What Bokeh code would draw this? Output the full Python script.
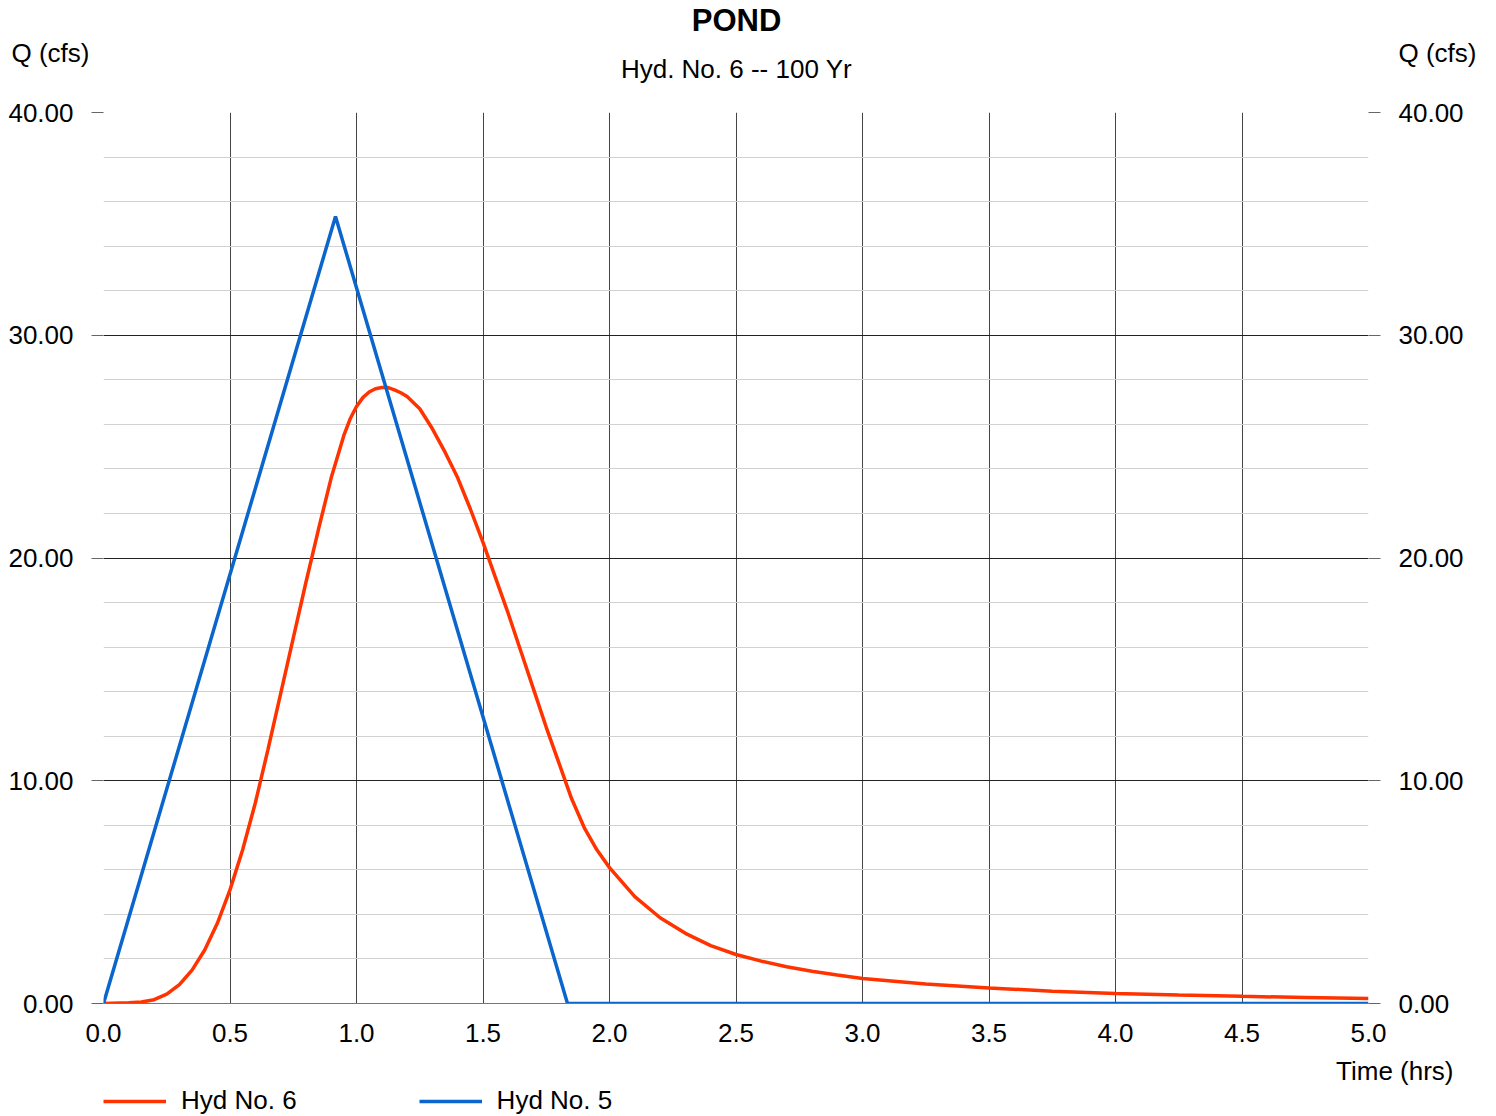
from bokeh.plotting import figure
from bokeh.layouts import column
from bokeh.models import (Range1d, LinearAxis, FixedTicker, NumeralTickFormatter,
                          Legend, LegendItem, Title)
from bokeh.core.properties import value
from bokeh.embed import file_html
from bokeh.resources import INLINE

# ---- data ----
hyd6_time = [0.0, 0.1, 0.15, 0.2, 0.25, 0.3, 0.35, 0.4, 0.45, 0.5, 0.55, 0.6, 0.65,
             0.7, 0.75, 0.8, 0.85, 0.9, 0.95, 0.975, 1.0, 1.025, 1.05, 1.075, 1.1, 1.125,
             1.15, 1.175, 1.2, 1.25, 1.3, 1.35, 1.4, 1.45, 1.5, 1.55, 1.6, 1.65, 1.7,
             1.75, 1.8, 1.85, 1.9, 1.95, 2.0, 2.1, 2.2, 2.3, 2.4, 2.5, 2.6, 2.7, 2.8,
             2.9, 3.0, 3.25, 3.5, 3.75, 4.0, 4.25, 4.5, 4.75, 5.0]
hyd6_q = [0.0, 0.03, 0.07, 0.17, 0.42, 0.85, 1.5, 2.4, 3.6, 5.1, 6.9, 9.0, 11.4,
          13.9, 16.4, 18.9, 21.3, 23.6, 25.5, 26.25, 26.8, 27.2, 27.45, 27.6, 27.65, 27.65,
          27.55, 27.42, 27.25, 26.7, 25.8, 24.75, 23.6, 22.2, 20.7, 19.1, 17.5, 15.8, 14.1,
          12.4, 10.8, 9.2, 7.9, 6.9, 6.1, 4.8, 3.85, 3.15, 2.6, 2.2, 1.9, 1.65, 1.45,
          1.28, 1.12, 0.88, 0.7, 0.55, 0.45, 0.38, 0.32, 0.27, 0.22]
hyd5_time = [0.0, 0.917, 1.834, 5.0]
hyd5_q = [0.0, 35.33, 0.0, 0.0]

x_ticks = [0.0, 0.5, 1.0, 1.5, 2.0, 2.5, 3.0, 3.5, 4.0, 4.5, 5.0]
y_ticks = [0, 10, 20, 30, 40]
y_minor = [2, 4, 6, 8, 12, 14, 16, 18, 22, 24, 26, 28, 32, 34, 36, 38]

title = "POND"
subtitle = "Hyd. No. 6 -- 100 Yr"
y_label = "Q (cfs)"
x_label = "Time (hrs)"
names = ["Hyd No. 6", "Hyd No. 5"]

FONT = "Liberation Sans"
RED = "#ff3300"
BLUE = "#0a66cc"
LW = 3.5
TOP_H = 98
FRAME_L, FRAME_R = 103, 1368

# ---- header strip (titles and axis-unit labels) ----
head = figure(width=1480, height=TOP_H, output_backend="svg", toolbar_location=None,
              x_range=Range1d(FRAME_L, FRAME_R), y_range=Range1d(TOP_H, 0),
              x_axis_location=None, y_axis_location=None,
              min_border_left=103, min_border_right=112, min_border_top=0,
              min_border_bottom=0, title=None)
head.outline_line_color = None
head.grid.visible = False

head.text(x=[736], y=[20], text=[title], text_align="center", text_baseline="middle",
          text_font=value(FONT), text_font_size="31px", text_font_style="bold",
          text_color="black")
head.text(x=[736], y=[68], text=[subtitle], text_align="center", text_baseline="middle",
          text_font=value(FONT), text_font_size="26px", text_color="black")

for side, standoff in (("left", 14), ("right", 30)):
    hax = LinearAxis(ticker=FixedTicker(ticks=[52], minor_ticks=[]),
                     major_label_overrides={52: y_label})
    hax.major_tick_out = 0
    hax.major_tick_in = 0
    hax.minor_tick_out = 0
    hax.minor_tick_in = 0
    hax.axis_line_color = None
    hax.major_label_standoff = standoff
    hax.major_label_text_font = FONT
    hax.major_label_text_font_size = "26px"
    hax.major_label_text_color = "black"
    head.add_layout(hax, side)

# ---- main chart ----
p = figure(frame_width=FRAME_R - FRAME_L, frame_height=891, output_backend="svg",
           toolbar_location=None, x_range=Range1d(0, 5), y_range=Range1d(0, 40),
           x_axis_location=None, y_axis_location=None, title=None,
           min_border_left=103, min_border_right=112, min_border_top=14,
           min_border_bottom=52)
p.outline_line_color = None
p.background_fill_color = "white"

bottom = LinearAxis(ticker=FixedTicker(ticks=x_ticks),
                    formatter=NumeralTickFormatter(format="0.0"))
bottom.major_tick_out = 0
bottom.major_tick_in = 0
bottom.minor_tick_out = 0
bottom.minor_tick_in = 0
bottom.axis_line_color = "#777777"
bottom.major_label_standoff = 20
p.add_layout(bottom, "below")

for side in ("left", "right"):
    ax = LinearAxis(ticker=FixedTicker(ticks=y_ticks, minor_ticks=y_minor),
                    formatter=NumeralTickFormatter(format="0.00"))
    ax.major_tick_out = 12
    ax.major_tick_in = 0
    ax.minor_tick_out = 0
    ax.minor_tick_in = 0
    ax.axis_line_color = None
    ax.major_tick_line_color = "#666666"
    ax.major_label_standoff = 18
    p.add_layout(ax, side)

for ax in p.axis:
    ax.major_label_text_font = FONT
    ax.major_label_text_font_size = "26px"
    ax.major_label_text_color = "black"

p.xgrid.ticker = FixedTicker(ticks=x_ticks)
p.xgrid.grid_line_color = "#444444"
p.xgrid.grid_line_width = 1
p.ygrid.ticker = FixedTicker(ticks=y_ticks, minor_ticks=y_minor)
p.ygrid.grid_line_color = "#222222"
p.ygrid.grid_line_width = 1
p.ygrid.minor_grid_line_color = "#d2d2d2"
p.ygrid.minor_grid_line_width = 1

p.line(hyd6_time, hyd6_q, line_color=RED, line_width=LW)
p.line(hyd5_time, hyd5_q, line_color=BLUE, line_width=LW)

# ---- footer: x-axis unit label and legend ----
foot = figure(width=1480, height=60, output_backend="svg", toolbar_location=None,
              x_range=Range1d(0, 5), y_range=Range1d(-100, -99),
              x_axis_location=None, y_axis_location=None, title=None,
              min_border_left=103, min_border_right=112, min_border_top=30,
              min_border_bottom=0)
foot.outline_line_color = None
foot.grid.visible = False
# legend keys: same series, plotted outside this strip's visible range
k6 = foot.line(hyd6_time, hyd6_q, line_color=RED, line_width=LW)
k5 = foot.line(hyd5_time, hyd5_q, line_color=BLUE, line_width=LW)

foot.add_layout(Title(text=x_label, align="right", offset=-85, standoff=-2,
                      vertical_align="middle", text_font=FONT, text_font_size="26px",
                      text_font_style="normal", text_color="black"), "above")

legend = Legend(items=[LegendItem(label=names[0], renderers=[k6]),
                       LegendItem(label=names[1], renderers=[k5])],
                orientation="horizontal", location="top_left",
                glyph_width=63, glyph_height=20, label_standoff=15, spacing=122,
                padding=0, margin=0, border_line_color=None, background_fill_alpha=0,
                label_text_font=FONT, label_text_font_size="26px",
                label_text_color="black", label_height=20)
foot.add_layout(legend, "center")

layout = column(head, p, foot, spacing=0)
open("out.html", "w").write(file_html(layout, INLINE))
